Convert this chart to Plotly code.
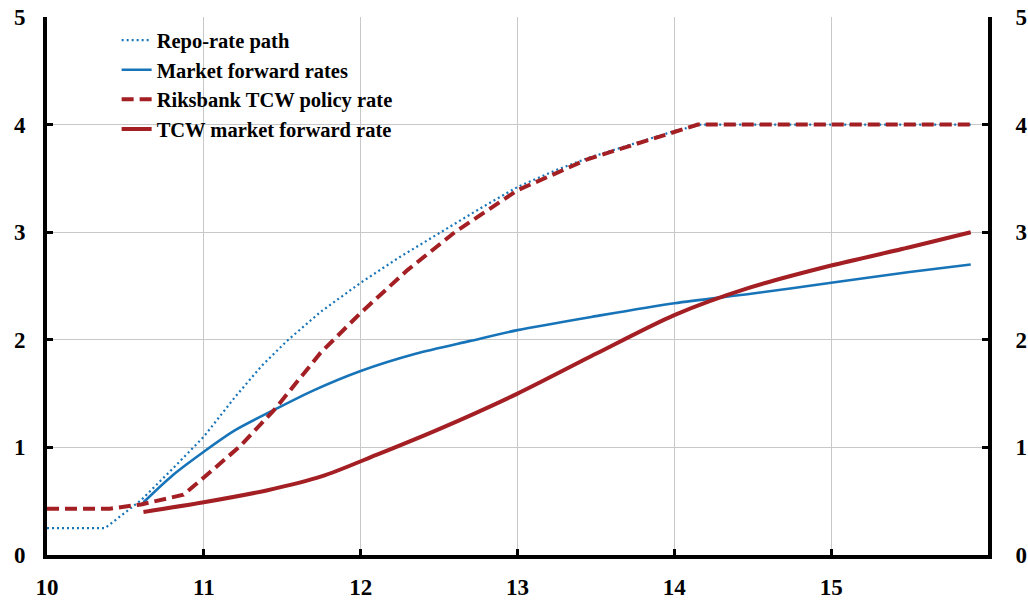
import plotly.graph_objects as go

# Repo-rate path (dotted blue)
repo_x = [10.0, 10.37, 10.6, 10.8, 11.0, 11.2, 11.37, 11.53, 11.745, 12.0, 12.25, 12.5, 12.75, 13.0, 13.25, 13.45, 13.75, 14.0, 14.17, 14.5, 15.0, 15.5, 15.89]
repo_y = [0.25, 0.25, 0.51, 0.80, 1.10, 1.47, 1.76, 1.99, 2.26, 2.53, 2.77, 2.99, 3.21, 3.42, 3.58, 3.69, 3.83, 3.94, 4.0, 4.0, 4.0, 4.0, 4.0]

# Market forward rates (solid blue)
mkt_x = [10.615, 10.8, 11.0, 11.2, 11.45, 11.7, 12.0, 12.35, 12.7, 13.0, 13.5, 14.0, 14.5, 15.0, 15.5, 15.89]
mkt_y = [0.49, 0.74, 0.96, 1.16, 1.35, 1.53, 1.71, 1.87, 1.99, 2.09, 2.22, 2.34, 2.43, 2.53, 2.63, 2.70]

# Riksbank TCW policy rate (dashed red)
tcw_pol_x = [10.0, 10.4, 10.6, 10.87, 11.0, 11.23, 11.45, 11.745, 12.0, 12.3, 12.6, 13.0, 13.45, 14.0, 14.15, 14.5, 15.0, 15.5, 15.89]
tcw_pol_y = [0.43, 0.43, 0.47, 0.56, 0.72, 1.01, 1.35, 1.88, 2.25, 2.65, 3.0, 3.39, 3.68, 3.93, 4.0, 4.0, 4.0, 4.0, 4.0]

# TCW market forward rate (solid red)
tcw_mkt_x = [10.615, 11.0, 11.4, 11.75, 12.1, 12.5, 13.0, 13.5, 14.0, 14.47, 15.0, 15.5, 15.89]
tcw_mkt_y = [0.40, 0.49, 0.60, 0.73, 0.93, 1.17, 1.50, 1.87, 2.23, 2.48, 2.69, 2.86, 3.0]

x_ticks = [10, 11, 12, 13, 14, 15]
y_ticks = [0, 1, 2, 3, 4, 5]

BLUE = "#1874B8"
RED = "#A31F24"
FONT = "Liberation Serif"

fig = go.Figure()
fig.add_trace(go.Scatter(x=repo_x, y=repo_y, mode="lines", name="<b>Repo-rate path</b>",
                         legendgroup="a", line=dict(color=BLUE, width=2.2, dash="2px,3px")))
fig.add_trace(go.Scatter(x=mkt_x, y=mkt_y, mode="lines", name="<b>Market forward rates</b>",
                         legendgroup="b", line=dict(color=BLUE, width=2.6, shape="spline", smoothing=0.8)))
fig.add_trace(go.Scatter(x=tcw_pol_x, y=tcw_pol_y, mode="lines", name="<b>Riksbank TCW policy rate</b>",
                         legendgroup="c", line=dict(color=RED, width=4, dash="12px,6px")))
fig.add_trace(go.Scatter(x=tcw_mkt_x, y=tcw_mkt_y, mode="lines", name="<b>TCW market forward rate</b>",
                         legendgroup="d", line=dict(color=RED, width=4, shape="spline", smoothing=0.8)))
# invisible trace for right axis
fig.add_trace(go.Scatter(x=[10, 16], y=[0, 5], mode="lines", yaxis="y2", showlegend=False,
                         line=dict(width=0), hoverinfo="skip", opacity=0))

fig.update_layout(
    width=1028, height=600,
    margin=dict(l=47, r=40, t=17, b=45),
    paper_bgcolor="white", plot_bgcolor="white",
    font=dict(family=FONT, size=23, color="black"),
    showlegend=True,
    legend=dict(x=0.074, y=0.994, xanchor="left", yanchor="top",
                font=dict(family=FONT, size=20.5, color="black"),
                bgcolor="rgba(0,0,0,0)", tracegroupgap=0, itemwidth=30),
    xaxis=dict(range=[10, 16], tickvals=x_ticks, ticktext=[f"<b>{v}</b>" for v in x_ticks],
               showgrid=True, gridcolor="#C8C8C8", gridwidth=1,
               showline=True, linecolor="black", linewidth=4,
               ticks="inside", ticklen=6, tickwidth=3, tickcolor="black",
               zeroline=False, fixedrange=True, ticklabelstandoff=8, automargin=False),
    yaxis=dict(range=[0, 5], tickvals=y_ticks, ticktext=[f"<b>{v}</b>" for v in y_ticks],
               showgrid=True, gridcolor="#C8C8C8", gridwidth=1,
               showline=True, linecolor="black", linewidth=4,
               ticks="inside", ticklen=6, tickwidth=3, tickcolor="black",
               zeroline=False, ticklabelstandoff=13, automargin=False),
    yaxis2=dict(range=[0, 5], tickvals=y_ticks, ticktext=[f"<b>{v}</b>" for v in y_ticks],
                overlaying="y", side="right", showgrid=False,
                showline=True, linecolor="black", linewidth=4,
                ticks="inside", ticklen=6, tickwidth=3, tickcolor="black",
                zeroline=False, ticklabelstandoff=19, automargin=False),
)

fig.write_html("out.html", config={"displayModeBar": False},
               post_script="document.body.style.margin='0';document.body.style.overflow='hidden';")
